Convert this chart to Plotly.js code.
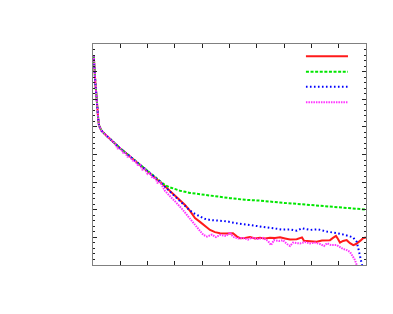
<!DOCTYPE html>
<html>
<head>
<meta charset="utf-8">
<script src="https://cdn.plot.ly/plotly-3.0.1.min.js"></script>
<style>html,body{margin:0;padding:0;background:#fff;}#chart{width:393px;height:314px;}</style>
</head>
<body>
<div id="chart"></div>
<script>
// Shared initial descent (x in 0..100, y as log10 value)
var commonX = [0.26, 0.62, 0.92, 1.21, 1.58, 1.90, 2.20, 3.04, 4.87, 6.70, 8.06, 9.89, 11.72, 13.55, 15.38, 17.22, 19.05, 20.88, 22.71, 24.54];
var commonY = [-0.41, -1.19, -1.51, -1.80, -2.40, -2.70, -2.95, -3.13, -3.31, -3.49, -3.61, -3.77, -3.92, -4.07, -4.22, -4.37, -4.53, -4.68, -4.83, -4.98];

var greenX = [26.37, 28.21, 30.04, 31.87, 35.53, 39.19, 42.86, 46.52, 50.18, 55.68, 61.17, 68.5, 75.82, 83.15, 90.48, 95.97, 100];
var greenY = [-5.11, -5.19, -5.25, -5.31, -5.39, -5.44, -5.50, -5.54, -5.58, -5.64, -5.67, -5.74, -5.80, -5.85, -5.91, -5.95, -5.99];

var blueX = [26.37, 28.21, 30.04, 31.87, 33.70, 35.53, 37.36, 39.19, 41.03, 42.86, 44.69, 46.52, 49.08, 52.01, 55.68, 59.34, 63.0, 66.67, 69.6, 72.16, 74.73, 76.56, 79.49, 82.42, 85.71, 89.38, 92.31, 95.24, 96.59, 97.18, 97.8, 98.42, 98.72];
var blueY = [-5.17, -5.34, -5.50, -5.66, -5.84, -6.03, -6.15, -6.24, -6.33, -6.37, -6.39, -6.41, -6.42, -6.48, -6.53, -6.59, -6.64, -6.69, -6.72, -6.71, -6.76, -6.67, -6.73, -6.71, -6.79, -6.85, -6.91, -7.00, -7.16, -7.40, -7.70, -7.94, -8.08];

var redX = [26.37, 28.21, 30.04, 31.87, 33.70, 35.53, 37.36, 39.19, 41.03, 42.86, 44.69, 46.52, 48.72, 51.28, 52.75, 53.85, 55.68, 57.51, 59.34, 61.17, 63.0, 64.84, 66.67, 68.5, 70.33, 72.16, 74.62, 75.82, 76.56, 77.29, 79.49, 81.94, 83.88, 86.81, 87.91, 89.01, 89.74, 90.48, 91.58, 92.93, 94.14, 95.35, 96.34, 97.07, 98.17, 98.9, 100];
var redY = [-5.15, -5.32, -5.48, -5.64, -5.83, -6.04, -6.30, -6.44, -6.59, -6.73, -6.81, -6.85, -6.86, -6.85, -6.97, -7.03, -7.02, -6.99, -7.04, -7.01, -7.04, -7.01, -7.02, -7.00, -7.04, -7.08, -7.07, -7.02, -7.00, -7.12, -7.13, -7.16, -7.11, -7.10, -7.02, -6.95, -7.06, -7.19, -7.13, -7.10, -7.21, -7.28, -7.24, -7.19, -7.10, -7.03, -7.00];

// Magenta follows the shared descent with small downward spikes
var magentaFrontX = [0.26, 0.62, 0.92, 1.21, 1.58, 1.90, 2.20, 3.04, 4.87, 6.70, 8.06, 9.0, 9.89, 11.0, 11.72, 12.6, 13.55, 14.5, 15.38, 16.3, 17.22, 18.1, 19.05, 20.0, 20.88, 21.8, 22.71, 23.6, 24.54];
var magentaFrontY = [-0.41, -1.19, -1.51, -1.80, -2.40, -2.70, -2.95, -3.13, -3.31, -3.49, -3.61, -3.78, -3.77, -3.93, -3.92, -4.08, -4.07, -4.22, -4.22, -4.38, -4.37, -4.55, -4.53, -4.71, -4.68, -4.86, -4.83, -5.02, -4.99];
var magentaX = [26.37, 28.21, 30.66, 32.6, 34.43, 36.74, 38.46, 40.4, 41.76, 43.59, 45.05, 46.52, 48.72, 50.18, 51.28, 53.11, 54.95, 56.78, 58.24, 60.44, 62.27, 64.1, 65.2, 66.3, 68.13, 69.6, 71.06, 72.16, 73.26, 74.73, 75.82, 77.66, 79.49, 81.32, 83.15, 84.62, 85.71, 87.18, 89.27, 90.48, 91.58, 92.93, 94.14, 95.24, 95.97, 96.59, 97.0];
var magentaY = [-5.32, -5.50, -5.76, -5.97, -6.19, -6.49, -6.70, -6.91, -6.97, -6.90, -6.99, -6.91, -6.95, -6.82, -6.98, -7.04, -7.02, -7.08, -7.01, -7.06, -7.02, -7.13, -7.28, -7.10, -7.13, -7.10, -7.24, -7.31, -7.19, -7.22, -7.22, -7.17, -7.22, -7.19, -7.24, -7.31, -7.21, -7.28, -7.28, -7.35, -7.42, -7.46, -7.53, -7.70, -7.82, -8.00, -8.10];

var colors = {red: '#ff1a1a', green: '#00e600', blue: '#0000ff', magenta: '#ff33ff'};
var dashes = {red: 'solid', green: '3px,1.6px', blue: '1.6px,2.4px', magenta: '1.5px,1px'};

var traces = [
  {x: commonX.concat(redX), y: commonY.concat(redY), color: colors.red, dash: dashes.red},
  {x: commonX.concat(greenX), y: commonY.concat(greenY), color: colors.green, dash: dashes.green},
  {x: commonX.concat(blueX), y: commonY.concat(blueY), color: colors.blue, dash: dashes.blue},
  {x: magentaFrontX.concat(magentaX), y: magentaFrontY.concat(magentaY), color: colors.magenta, dash: dashes.magenta}
];
var data = traces.map(function (t) {
  return {x: t.x, y: t.y, type: 'scatter', mode: 'lines', hoverinfo: 'skip',
    line: {color: t.color, width: 2, dash: t.dash}};
});

var legendY = [0.945, 0.874, 0.806, 0.736];
var shapes = traces.map(function (t, i) {
  return {type: 'line', xref: 'paper', yref: 'paper', x0: 0.78, x1: 0.934, y0: legendY[i], y1: legendY[i],
    line: {color: t.color, width: 2, dash: t.dash}};
});

var axisCommon = {
  showgrid: false, zeroline: false, showticklabels: false,
  showline: true, linecolor: '#808080', linewidth: 1, mirror: 'allticks',
  ticks: 'inside', ticklen: 4, tickcolor: '#222', tickwidth: 1
};
var layout = {
  width: 393, height: 314,
  margin: {l: 93, r: 27, t: 44, b: 49},
  paper_bgcolor: '#fff', plot_bgcolor: '#fff',
  showlegend: false,
  xaxis: Object.assign({}, axisCommon, {range: [0, 100], dtick: 10, tick0: 0}),
  yaxis: Object.assign({}, axisCommon, {range: [-8, 0], dtick: 1, tick0: 0,
    minor: {ticks: 'inside', ticklen: 2, dtick: 0.2, tickcolor: '#222', tickwidth: 1, showgrid: false}}),
  shapes: shapes
};
Plotly.newPlot('chart', data, layout, {staticPlot: true, displayModeBar: false});
</script>
</body>
</html>
